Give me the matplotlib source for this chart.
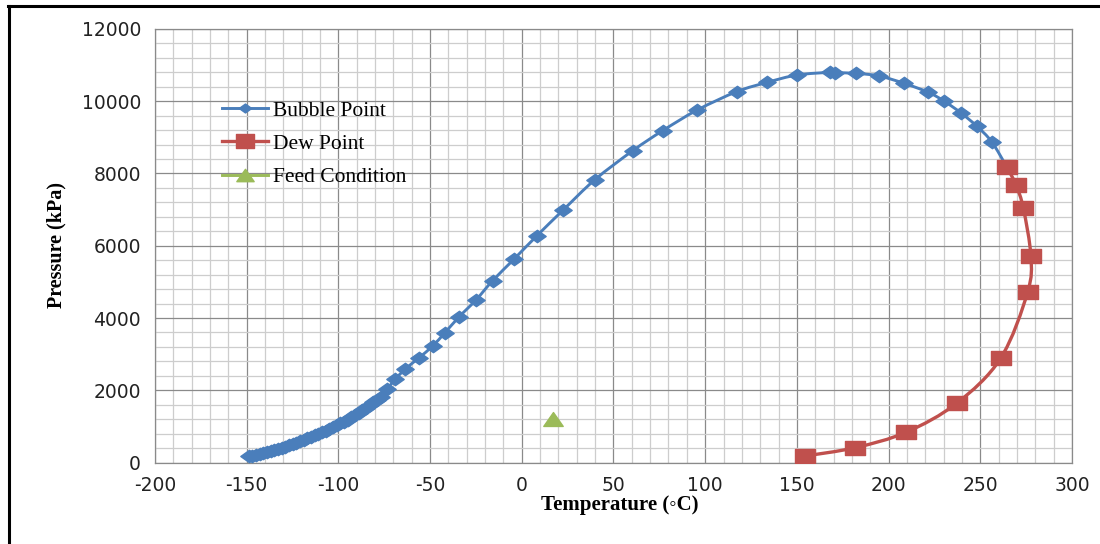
import numpy as np
import matplotlib
matplotlib.use('Agg')
import matplotlib.pyplot as plt
from matplotlib.path import Path
from matplotlib.patches import PathPatch
from matplotlib.lines import Line2D
from matplotlib.ticker import MultipleLocator

# bubble point curve (Temperature C, Pressure kPa)
bubble_T = [-149, -147, -145, -143, -141, -139, -137, -135, -133, -131,
            -129, -127, -125, -123, -121, -119, -117, -115, -113, -111,
            -109, -107, -105, -103, -101, -99, -97, -95, -93, -91,
            -89, -87, -85, -83, -81, -79, -77, -73.5, -69, -63.7,
            -56, -48.6, -41.9, -34.1, -25, -15.9, -4.3, 8.1, 22.6, 39.9,
            60.5, 76.8, 95.7, 117.2, 133.9, 150.2, 168, 171, 182.2, 194.9,
            208.4, 221.7, 230.2, 239.3, 248, 256.2, 264.4]
bubble_P = [170, 188, 208, 231, 256, 283, 312, 342, 373, 405,
            438, 472, 508, 546, 586, 627, 669, 711, 754, 797,
            840, 885, 931, 979, 1029, 1081, 1135, 1190, 1255, 1318,
            1383, 1450, 1520, 1592, 1666, 1742, 1820, 2030, 2300, 2580,
            2900, 3225, 3594, 4036, 4498, 5033, 5625, 6270, 6990, 7830,
            8631, 9185, 9758, 10265, 10524, 10727, 10800, 10790, 10773, 10699,
            10497, 10248, 10007, 9684, 9315, 8881, 8188]

# dew point curve
dew_T = [264.4, 269.5, 273.5, 277.6, 275.8, 261.1, 237.1, 209.5, 181.7, 154.4]
dew_P = [8188, 7682, 7036, 5716, 4711, 2884, 1638, 836, 410, 180]

# feed condition
feed_T = [17]
feed_P = [1200]

blue = '#4A7EBB'
red = '#C0504D'
green = '#9BBB59'

# the source picture is stretched sideways, so markers are wider than tall
diamond = Path([(-1.4, 0), (0, 1), (1.4, 0), (0, -1), (-1.4, 0)],
               [Path.MOVETO, Path.LINETO, Path.LINETO, Path.LINETO, Path.CLOSEPOLY])
square = Path([(-1.4, -1), (1.4, -1), (1.4, 1), (-1.4, 1), (-1.4, -1)],
              [Path.MOVETO, Path.LINETO, Path.LINETO, Path.LINETO, Path.CLOSEPOLY])
triangle = Path([(-1.4, -1), (1.4, -1), (0, 1), (-1.4, -1)],
                [Path.MOVETO, Path.LINETO, Path.LINETO, Path.CLOSEPOLY])


def smooth_path(xs, ys):
    # Excel style smoothed line: Catmull-Rom segments as cubic beziers
    pts = np.column_stack([xs, ys]).astype(float)
    n = len(pts)
    verts = [pts[0]]
    codes = [Path.MOVETO]
    for i in range(n - 1):
        p0 = pts[max(i - 1, 0)]
        p1 = pts[i]
        p2 = pts[i + 1]
        p3 = pts[min(i + 2, n - 1)]
        verts += [p1 + (p2 - p0) / 6, p2 - (p3 - p1) / 6, p2]
        codes += [Path.CURVE4] * 3
    return Path(verts, codes)


plt.rcParams['axes.unicode_minus'] = False
serif = ['Liberation Serif', 'DejaVu Serif']

fig = plt.figure(figsize=(11, 5.44), dpi=100)
ax = fig.add_axes([0.1409, 0.1498, 0.8336, 0.7969])

ax.set_xlim(-200, 300)
ax.set_ylim(0, 12000)
ax.xaxis.set_major_locator(MultipleLocator(50))
ax.xaxis.set_minor_locator(MultipleLocator(10))
ax.yaxis.set_major_locator(MultipleLocator(2000))
ax.yaxis.set_minor_locator(MultipleLocator(400))
ax.grid(True, which='minor', color='#cdcdcd', lw=0.9)
ax.grid(True, which='major', color='#8a8a8a', lw=0.9)
ax.set_axisbelow(True)
ax.tick_params(which='both', length=0)
ax.tick_params(axis='both', labelsize=13.5, pad=10, labelcolor='#222222')
for s in ax.spines.values():
    s.set_color('#8a8a8a')
    s.set_linewidth(0.9)

ax.add_patch(PathPatch(smooth_path(bubble_T, bubble_P), fill=False, ec=blue, lw=2.1, zorder=3))
ax.plot(bubble_T, bubble_P, ls='none', marker=diamond, ms=12.5, mfc=blue, mec=blue, zorder=4)
ax.add_patch(PathPatch(smooth_path(dew_T, dew_P), fill=False, ec=red, lw=2.4, zorder=5))
ax.plot(dew_T, dew_P, ls='none', marker=square, ms=14.5, mfc=red, mec=red, zorder=6)
ax.plot(feed_T, feed_P, ls='none', marker=triangle, ms=14, mfc=green, mec=green, zorder=6)

handles = [
    Line2D([], [], color=blue, lw=2.1, marker=diamond, ms=9, mfc=blue, mec=blue),
    Line2D([], [], color=red, lw=2.4, marker=square, ms=13.5, mfc=red, mec=red),
    Line2D([], [], color=green, lw=2.1, marker=triangle, ms=12.5, mfc=green, mec=green),
]
ax.legend(handles, ['Bubble Point', 'Dew Point', 'Feed Condition'],
          loc='upper left', bbox_to_anchor=(0.073, 0.835), frameon=False,
          prop={'family': serif, 'size': 15.5}, handlelength=2.15,
          handletextpad=0.2, labelspacing=0.62, borderpad=0, borderaxespad=0)

ax.set_xlabel('Temperature (◦C)', family=serif, fontweight='bold', fontsize=15)
ax.set_ylabel('Pressure (kPa)', family=serif, fontweight='bold', fontsize=14.5)
ax.xaxis.set_label_coords(0.507, -0.098)
ax.xaxis.label.set_verticalalignment('center')
ax.yaxis.set_label_coords(-0.107, 0.502)
ax.yaxis.label.set_verticalalignment('center')

# outer frame of the pasted figure (top and left edges)
fig.add_artist(Line2D([0.007, 1.0], [1 - 6 / 544, 1 - 6 / 544], color='black', lw=2.2,
                      transform=fig.transFigure))
fig.add_artist(Line2D([9 / 1100, 9 / 1100], [0, 1 - 6 / 544], color='black', lw=2.2,
                      transform=fig.transFigure))

fig.savefig('out.png', dpi=100)
